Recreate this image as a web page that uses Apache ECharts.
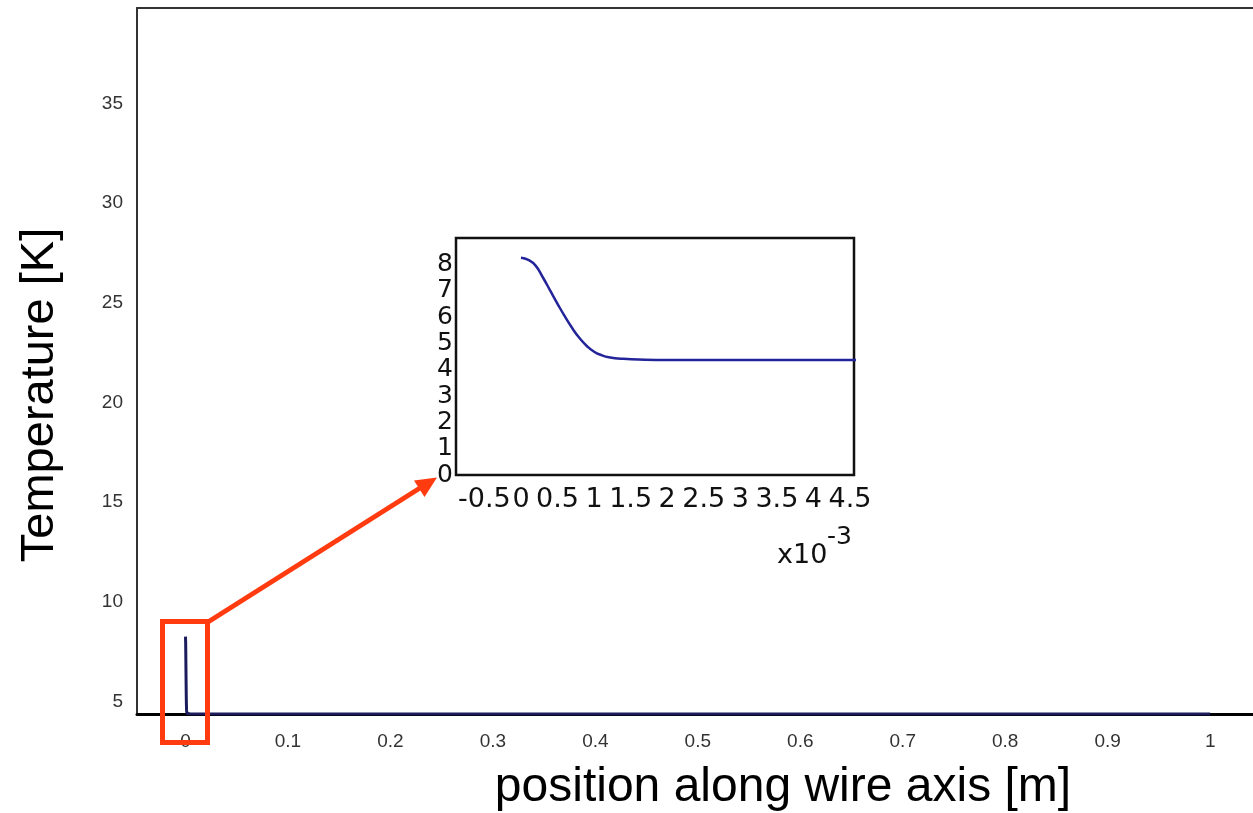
<!DOCTYPE html>
<html>
<head>
<meta charset="utf-8">
<script src="https://cdn.jsdelivr.net/npm/echarts@6/dist/echarts.min.js"></script>
<style>
html,body{margin:0;padding:0;background:#fff;}
#chart{width:1253px;height:813px;}
</style>
</head>
<body>
<div id="chart"></div>
<script>
// position along wire axis in units of 1e-3 m
const positionMm = [0, 0.1, 0.2, 0.3, 0.4, 0.5, 0.6, 0.7, 0.8, 0.9, 1.0, 1.1, 1.2, 1.4, 1.7, 2.0, 3.0, 4.5, 10, 100, 500, 1000];
// temperature [K]
const temperature = [8.25, 8.17, 7.95, 7.5, 7.0, 6.5, 6.02, 5.58, 5.2, 4.9, 4.68, 4.55, 4.47, 4.41, 4.38, 4.37, 4.37, 4.37, 4.37, 4.37, 4.37, 4.37];

const mainXTicks = [0, 0.1, 0.2, 0.3, 0.4, 0.5, 0.6, 0.7, 0.8, 0.9, 1];
const mainYTicks = [5, 10, 15, 20, 25, 30, 35];
const insetXTicks = [-0.5, 0, 0.5, 1, 1.5, 2, 2.5, 3, 3.5, 4, 4.5];
const insetYTicks = [0, 1, 2, 3, 4, 5, 6, 7, 8];

const mainData = positionMm.map((p, i) => [p / 1000, temperature[i]]);
const insetData = positionMm.map((p, i) => [p, temperature[i]]);

const chart = echarts.init(document.getElementById('chart'), null, {renderer: 'canvas'});
const RED = '#ff3b0f';
const SANS = 'Liberation Sans, Arial, sans-serif';
const VERD = 'DejaVu Sans, sans-serif';

const option = {
  backgroundColor: '#fff',
  animation: false,
  grid: [
    {left: 137, top: 8, right: 0, bottom: 99, containLabel: false},
    {left: 456, top: 238, width: 398, height: 237, containLabel: false,
     show: true, backgroundColor: '#fff', borderColor: '#111', borderWidth: 2.5}
  ],
  xAxis: [
    {type: 'value', gridIndex: 0, min: -0.0473, max: 1.0418,
     axisLine: {show: true, onZero: false, lineStyle: {color: '#000', width: 3}},
     axisTick: {show: false}, splitLine: {show: false},
     axisLabel: {customValues: mainXTicks, margin: 18, color: '#333', fontSize: 19,
                 fontFamily: SANS, formatter: v => String(v)}},
    {type: 'value', gridIndex: 0, position: 'top', min: -0.0473, max: 1.0418,
     axisLine: {show: true, onZero: false, lineStyle: {color: '#333', width: 2}},
     axisTick: {show: false}, splitLine: {show: false}, axisLabel: {show: false}},
    {type: 'value', gridIndex: 1, min: -0.889, max: 4.555,
     axisLine: {show: false, onZero: false}, axisTick: {show: false}, splitLine: {show: false},
     axisLabel: {customValues: insetXTicks, margin: 11, color: '#111', fontSize: 27,
                 hideOverlap: false, showMinLabel: true, showMaxLabel: true,
                 fontFamily: VERD, formatter: v => String(v)}}
  ],
  yAxis: [
    {type: 'value', gridIndex: 0, min: 4.37, max: 39.79,
     axisLine: {show: true, onZero: false, lineStyle: {color: '#333', width: 2}},
     axisTick: {show: false}, splitLine: {show: false},
     axisLabel: {customValues: mainYTicks, margin: 14, color: '#333', fontSize: 19,
                 fontFamily: SANS}},
    {type: 'value', gridIndex: 1, min: 0, max: 9,
     axisLine: {show: false, onZero: false}, axisTick: {show: false}, splitLine: {show: false},
     axisLabel: {customValues: insetYTicks, margin: 3, color: '#111', fontSize: 25,
                 lineHeight: 24, hideOverlap: false, showMinLabel: true, showMaxLabel: true,
                 fontFamily: VERD}}
  ],
  series: [
    {type: 'line', xAxisIndex: 0, yAxisIndex: 0, data: mainData, showSymbol: false,
     smooth: false, clip: true, lineStyle: {color: '#1b1b5e', width: 3}, z: 3},
    {type: 'line', xAxisIndex: 2, yAxisIndex: 1, data: insetData, showSymbol: false,
     smooth: true, clip: true, lineStyle: {color: '#24249a', width: 2.5}, z: 3}
  ],
  graphic: [
    {type: 'text', x: 40, y: 395, rotation: Math.PI / 2,
     style: {text: 'Temperature [K]', align: 'center', verticalAlign: 'middle',
             fontSize: 47, fill: '#000', fontFamily: SANS}, z: 10},
    {type: 'text',
     style: {text: 'position along wire axis [m]', x: 783, y: 788, align: 'center', verticalAlign: 'middle',
             fontSize: 48, fill: '#000', fontFamily: SANS}, z: 10},
    {type: 'text', style: {text: 'x10', x: 777, y: 556, verticalAlign: 'middle', fontSize: 27,
             fill: '#111', fontFamily: VERD}, z: 10},
    {type: 'text', style: {text: '-3', x: 827, y: 537, verticalAlign: 'middle', fontSize: 25,
             fill: '#111', fontFamily: VERD}, z: 10},
    {type: 'rect', shape: {x: 162.5, y: 621.5, width: 45, height: 121},
     style: {fill: null, stroke: RED, lineWidth: 5}, z: 20},
    {type: 'line', shape: {x1: 208, y1: 622, x2: 420, y2: 488},
     style: {stroke: RED, lineWidth: 5}, z: 20},
    {type: 'polygon', shape: {points: [[437, 477.5], [424.5, 497], [414, 480.5]]},
     style: {fill: RED}, z: 20}
  ]
};
chart.setOption(option);
</script>
</body>
</html>
